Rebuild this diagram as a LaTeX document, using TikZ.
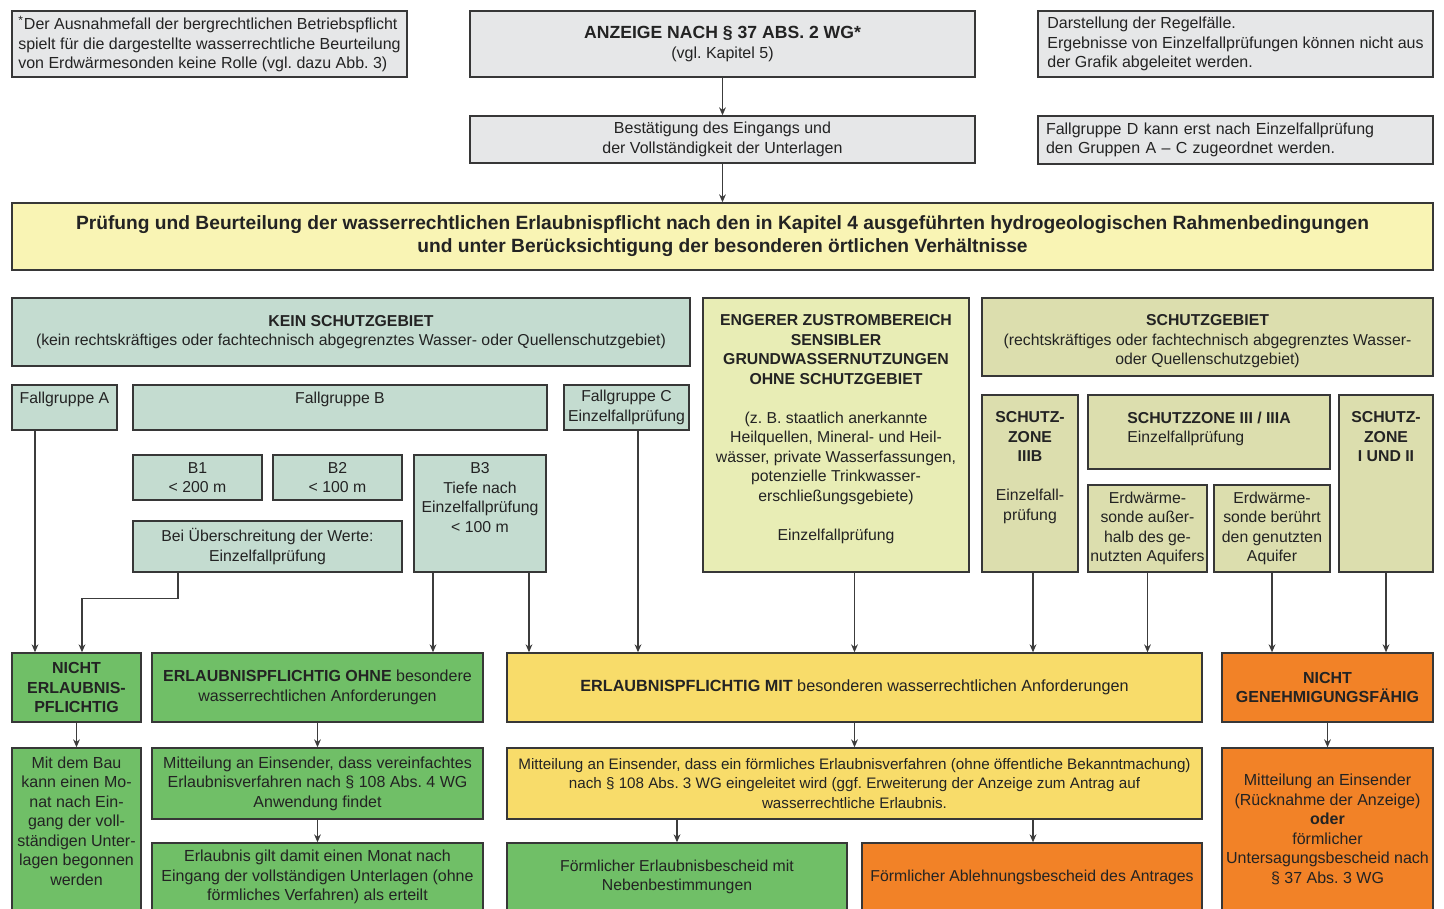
\documentclass[tikz,border=0pt]{standalone}
\usepackage{fontspec}
\setmainfont{Liberation Sans}
\frenchspacing
\usetikzlibrary{arrows.meta, positioning}
\definecolor{boxgray}{RGB}{230,231,232}
\definecolor{framegray}{RGB}{55,55,55}
\definecolor{txtgray}{RGB}{35,35,35}
\definecolor{linegray}{RGB}{60,60,60}
\definecolor{paleyellow}{RGB}{249,244,180}
\definecolor{mintgreen}{RGB}{196,220,208}
\definecolor{limegreen}{RGB}{232,237,181}
\definecolor{olivegreen}{RGB}{220,222,174}
\definecolor{resgreen}{RGB}{112,191,103}
\definecolor{resyellow}{RGB}{248,220,106}
\definecolor{resorange}{RGB}{242,130,39}

\tikzset{
  box/.style={draw=framegray, line width=0.7pt, inner xsep=0.5pt, inner ysep=0pt,
    align=center, text=txtgray, font=\fontsize{8}{9.75}\selectfont},
  notebox/.style={box, fill=boxgray, align=left, inner xsep=2.5pt},
  graybox/.style={box, fill=boxgray},
  mintbox/.style={box, fill=mintgreen, font=\fontsize{7.9}{9.75}\selectfont},
  limebox/.style={box, fill=limegreen},
  olivebox/.style={box, fill=olivegreen, font=\fontsize{7.9}{9.75}\selectfont},
  greenbox/.style={box, fill=resgreen},
  yellowbox/.style={box, fill=resyellow, font=\fontsize{7.9}{9.75}\selectfont},
  orangebox/.style={box, fill=resorange},
  lbl/.style={inner sep=0pt, align=center, text=txtgray, font=\fontsize{7.9}{9.75}\selectfont},
  arr/.style={draw=linegray, line width=0.6pt, -{Stealth[length=4pt, width=3.4pt]}},
}

% box from (x1,y1) to (x2,y2), pixel grid of the sheet
\newcommand{\pbox}[7]{%
  \pgfmathsetmacro\bw{(#5-#3)*0.5}%
  \pgfmathsetmacro\bh{(#6-#4)*0.5}%
  \node[#2, minimum width=\bw pt, minimum height=\bh pt] (#1)
    at ({(#3+#5)/2},{(#4+#6)/2}) {#7};}

\begin{document}
\begin{tikzpicture}[x=0.5pt, y=-0.5pt]
\useasboundingbox (0,0) rectangle (1444,909);
\clip (0,0) rectangle (1444,909);
% Head: notice, receipt, notes
\pbox{note1}{notebox}{12}{11}{407}{77}{\textsuperscript{*}Der Ausnahmefall der bergrechtlichen Betriebspflicht\\spielt für die dargestellte wasserrechtliche Beurteilung\\von Erdwärmesonden keine Rolle (vgl. dazu Abb. 3)}
\pbox{anzeige}{graybox}{470}{11}{975}{77}{{\fontsize{8.8}{10}\selectfont\bfseries ANZEIGE NACH § 37 ABS. 2 WG*}\\(vgl. Kapitel 5)}
\pbox{note2}{notebox}{1038}{11}{1433}{77}{Darstellung der Regelfälle.\\Ergebnisse von Einzelfallprüfungen können nicht aus\\der Grafik abgeleitet werden.}
\pbox{bestaet}{graybox}{470}{116}{975}{163}{Bestätigung des Eingangs und\\der Vollständigkeit der Unterlagen}
\pbox{note3}{notebox, inner xsep=4pt, text width=189.5pt}{1038}{116}{1433}{164}{Fallgruppe D kann erst nach Einzelfallprüfung\\den Gruppen A – C zugeordnet werden.}
\pbox{pruefung}{box, fill=paleyellow, font=\fontsize{9.6}{11.5}\selectfont\bfseries}{12}{203}{1433}{270}{Prüfung und Beurteilung der wasserrechtlichen Erlaubnispflicht nach den in Kapitel 4 ausgeführten hydrogeologischen Rahmenbedingungen\\und unter Berücksichtigung der besonderen örtlichen Verhältnisse}

% Kein Schutzgebiet
\pbox{kein}{mintbox}{12}{298}{690}{366}{\textbf{KEIN SCHUTZGEBIET}\\(kein rechtskräftiges oder fachtechnisch abgegrenztes Wasser- oder Quellenschutzgebiet)}
\pbox{fgA}{mintbox}{12}{385}{117}{430}{}
\node[lbl, anchor=north west] (fgAtxt) at ([xshift=4pt, yshift=-3.5pt]fgA.north west) {Fallgruppe A};
\pbox{fgB}{mintbox}{133}{385}{547}{430}{}
\node[lbl, anchor=north] (fgBtxt) at ([yshift=-3.5pt]fgB.north) {Fallgruppe B};
\pbox{fgC}{mintbox}{564}{385}{689}{430}{Fallgruppe C\\Einzelfallprüfung}
\pbox{bone}{mintbox}{133}{455}{262}{500}{B1\\< 200 m}
\pbox{btwo}{mintbox}{273}{455}{402}{500}{B2\\< 100 m}
\pbox{bthree}{mintbox}{414}{455}{546}{572}{}
\node[lbl, anchor=north] (bthreetxt) at ([yshift=-4pt]bthree.north) {B3\\Tiefe nach\\Einzelfallprüfung\\< 100 m};
\pbox{bei}{mintbox}{133}{521}{402}{572}{Bei Überschreitung der Werte:\\Einzelfallprüfung}

% Engerer Zustrombereich
\pbox{engerer}{limebox}{703}{298}{969}{572}{}
\node[lbl, anchor=north] (engerertxt) at ([yshift=-8.5pt]engerer.north) {\textbf{ENGERER ZUSTROMBEREICH}\\\textbf{SENSIBLER}\\\textbf{GRUNDWASSERNUTZUNGEN}\\\textbf{OHNE SCHUTZGEBIET}\\[9.75pt](z. B. staatlich anerkannte\\Heilquellen, Mineral- und Heil-\\wässer, private Wasserfassungen,\\potenzielle Trinkwasser-\\erschließungsgebiete)\\[9.75pt]Einzelfallprüfung};

% Schutzgebiet
\pbox{schutz}{olivebox}{982}{298}{1433}{376}{}
\node[lbl, anchor=north] (schutztxt) at ([yshift=-8.5pt]schutz.north) {\textbf{SCHUTZGEBIET}\\(rechtskräftiges oder fachtechnisch abgegrenztes Wasser-\\oder Quellenschutzgebiet)};
\pbox{zdreib}{olivebox}{982}{395}{1078}{572}{}
\node[lbl, anchor=north] (zdreibtxt) at ([yshift=-8.5pt]zdreib.north) {\textbf{SCHUTZ-}\\\textbf{ZONE}\\\textbf{IIIB}\\[9.75pt]Einzelfall-\\prüfung};
\pbox{zdrei}{olivebox}{1088}{395}{1330}{469}{}
\node[lbl, anchor=north, align=left] (zdreitxt) at ([yshift=-8.5pt]zdrei.north) {\textbf{SCHUTZZONE III / IIIA}\\Einzelfallprüfung};
\pbox{erda}{olivebox}{1088}{485}{1207}{572}{Erdwärme-\\sonde außer-\\halb des ge-\\nutzten Aquifers}
\pbox{erdb}{olivebox}{1214}{485}{1330}{572}{Erdwärme-\\sonde berührt\\den genutzten\\Aquifer}
\pbox{zeins}{olivebox}{1339}{395}{1433}{572}{}
\node[lbl, anchor=north] (zeinstxt) at ([yshift=-8.5pt]zeins.north) {\textbf{SCHUTZ-}\\\textbf{ZONE}\\\textbf{I UND II}};

% Ergebnisse
\pbox{nicht}{greenbox, font=\fontsize{8}{9.75}\selectfont\bfseries}{12}{653}{141}{722}{NICHT\\ERLAUBNIS-\\PFLICHTIG}
\pbox{ohne}{greenbox}{152}{653}{483}{722}{\textbf{ERLAUBNISPFLICHTIG OHNE} besondere\\wasserrechtlichen Anforderungen}
\pbox{mit}{yellowbox, font=\fontsize{8.1}{9.75}\selectfont}{507}{653}{1202}{722}{\textbf{ERLAUBNISPFLICHTIG MIT} besonderen wasserrechtlichen Anforderungen}
\pbox{ngf}{orangebox, font=\fontsize{8}{9.75}\selectfont\bfseries}{1222}{653}{1433}{722}{NICHT\\GENEHMIGUNGSFÄHIG}

\pbox{mitbau}{greenbox}{12}{748}{141}{911}{}
\node[lbl, anchor=north, font=\fontsize{8}{9.75}\selectfont] (mitbautxt) at ([yshift=-4.5pt]mitbau.north) {Mit dem Bau\\kann einen Mo-\\nat nach Ein-\\gang der voll-\\ständigen Unter-\\lagen begonnen\\werden};
\pbox{mitohne}{greenbox}{152}{748}{483}{819}{Mitteilung an Einsender, dass vereinfachtes\\Erlaubnisverfahren nach § 108 Abs. 4 WG\\Anwendung findet}
\pbox{mitmit}{yellowbox, font=\fontsize{7.6}{9.75}\selectfont}{507}{748}{1202}{819}{Mitteilung an Einsender, dass ein förmliches Erlaubnisverfahren (ohne öffentliche Bekanntmachung)\\nach § 108 Abs. 3 WG eingeleitet wird (ggf. Erweiterung der Anzeige zum Antrag auf\\wasserrechtliche Erlaubnis.}
\pbox{mitngf}{orangebox}{1222}{748}{1433}{911}{Mitteilung an Einsender\\(Rücknahme der Anzeige)\\\textbf{oder}\\förmlicher\\Untersagungsbescheid nach\\§ 37 Abs. 3 WG}
\pbox{erlgilt}{greenbox}{152}{843}{483}{911}{Erlaubnis gilt damit einen Monat nach\\Eingang der vollständigen Unterlagen (ohne\\förmliches Verfahren) als erteilt}
\pbox{ferl}{greenbox, font=\fontsize{7.9}{9.75}\selectfont}{507}{843}{847}{911}{Förmlicher Erlaubnisbescheid mit\\Nebenbestimmungen}
\pbox{fabl}{orangebox, font=\fontsize{7.9}{9.75}\selectfont}{862}{843}{1202}{911}{Förmlicher Ablehnungsbescheid des Antrages}

% Columns of the connectors
\coordinate (colA) at (35,0);
\coordinate (colBa) at (178,0);
\coordinate (colBb) at (82,0);
\coordinate (colBc) at (433,0);
\coordinate (colBd) at (529,0);
\coordinate (colC) at (638,0);
\coordinate (colZ) at (1033,0);

% Connectors
\draw[arr] (anzeige.south) -- (bestaet.north);
\draw[arr] (bestaet.south) -- (pruefung.north);
\draw[arr] (fgA.south -| colA) -- (nicht.north -| colA);
\draw[arr] (bei.south -| colBa) -- ++(0,26) -| (nicht.north -| colBb);
\draw[arr] (bthree.south -| colBc) -- (ohne.north -| colBc);
\draw[arr] (bthree.south -| colBd) -- (mit.north -| colBd);
\draw[arr] (fgC.south -| colC) -- (mit.north -| colC);
\draw[arr] (engerer.south -| mit.north) -- (mit.north);
\draw[arr] (zdreib.south -| colZ) -- (mit.north -| colZ);
\draw[arr] (erda.south) -- (erda.south |- mit.north);
\draw[arr] (erdb.south) -- (erdb.south |- ngf.north);
\draw[arr] (zeins.south) -- (zeins.south |- ngf.north);
\draw[arr] (nicht.south) -- (mitbau.north);
\draw[arr] (ohne.south) -- (mitohne.north);
\draw[arr] (mitohne.south) -- (erlgilt.north);
\draw[arr] (mit.south) -- (mitmit.north);
\draw[arr] (mitmit.south -| ferl.north) -- (ferl.north);
\draw[arr] (mitmit.south -| colZ) -- (fabl.north -| colZ);
\draw[arr] (ngf.south) -- (mitngf.north);
\end{tikzpicture}
\end{document}
